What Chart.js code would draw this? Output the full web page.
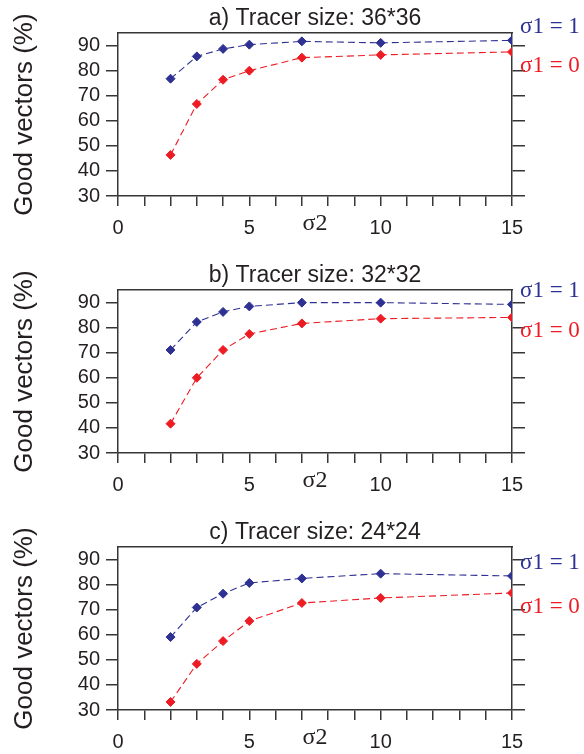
<!DOCTYPE html>
<html>
<head>
<meta charset="utf-8">
<script src="https://cdn.jsdelivr.net/npm/chart.js@4"></script>
<style>
  html, body { margin: 0; padding: 0; background: #fff; }
  body { width: 584px; height: 754px; position: relative; overflow: hidden; }
  canvas { position: absolute; left: 0; }
</style>
</head>
<body>
<canvas id="panel-a" width="584" height="240" style="top:0px"></canvas>
<canvas id="panel-b" width="584" height="240" style="top:257px"></canvas>
<canvas id="panel-c" width="584" height="240" style="top:514px"></canvas>
<script>
// sigma2 values on the x axis
const sigma2 = [2, 3, 4, 5, 7, 10, 15];

// good vectors (%) for each tracer size, sigma1 = 1 and sigma1 = 0
const good36s1 = [76.8, 85.7, 88.7, 90.4, 91.7, 91.1, 92.1];
const good36s0 = [46.4, 66.7, 76.4, 80.0, 85.2, 86.3, 87.5];
const good32s1 = [71.1, 82.3, 86.3, 88.5, 90.0, 90.0, 89.3];
const good32s0 = [41.7, 60.0, 71.1, 77.5, 81.7, 83.6, 84.1];
const good24s1 = [59.1, 70.9, 76.4, 80.7, 82.5, 84.4, 83.5];
const good24s0 = [33.2, 48.4, 57.5, 65.5, 72.7, 74.7, 76.7];

const panelTitles = ['a) Tracer size: 36*36', 'b) Tracer size: 32*32', 'c) Tracer size: 24*24'];
const seriesLabels = ['σ1 = 1', 'σ1 = 0'];
const yTicks = [30, 40, 50, 60, 70, 80, 90];
const xTickLabels = [0, 5, 10, 15];

const BLUE = '#2e3192';
const RED = '#ed1c24';
const INK = '#231f20';
const AXIS = '#363636';
const SANS = '"Liberation Sans", Arial, sans-serif';
const SERIF = '"Liberation Serif", "Times New Roman", serif';

// puts the sigma1 label next to the last point of each series
const endLabels = {
    id: 'endLabels',
    afterDatasetsDraw(chart) {
        const ctx = chart.ctx;
        ctx.save();
        ctx.font = '23px ' + SERIF;
        ctx.textBaseline = 'middle';
        ctx.textAlign = 'left';
        chart.data.datasets.forEach((ds, i) => {
            const pts = chart.getDatasetMeta(i).data;
            const last = pts[pts.length - 1];
            ctx.fillStyle = ds.borderColor;
            ctx.fillText(ds.label, chart.chartArea.right + 8, last.y + ds.labelShift);
        });
        ctx.restore();
    }
};

const fixedTicks = scale => { scale.ticks = yTicks.map(v => ({ value: v })); };

const makePanel = (id, title, s1, s0) => new Chart(document.getElementById(id), {
    type: 'line',
    data: {
        datasets: [{
            label: seriesLabels[0],
            data: sigma2.map((x, i) => ({ x: x, y: s1[i] })),
            borderColor: BLUE,
            backgroundColor: BLUE,
            labelShift: -13
        },
        {
            label: seriesLabels[1],
            data: sigma2.map((x, i) => ({ x: x, y: s0[i] })),
            borderColor: RED,
            backgroundColor: RED,
            labelShift: 14
        }]
    },
    options: {
        responsive: false,
        animation: false,
        elements: {
            line: { borderWidth: 1.1, borderDash: [7, 4], tension: 0 },
            point: { pointStyle: 'rectRot', radius: 4.5, borderWidth: 1 }
        },
        plugins: {
            legend: { display: false },
            tooltip: { enabled: false },
            title: {
                display: true,
                text: title,
                fullSize: false,
                color: INK,
                font: { family: SANS, size: 23, weight: 'normal' },
                padding: { top: 5, bottom: 0.5 }
            }
        },
        scales: {
            x: {
                type: 'linear',
                position: 'bottom',
                min: 0,
                max: 15,
                ticks: {
                    stepSize: 1,
                    autoSkip: false,
                    maxRotation: 0,
                    padding: 10,
                    color: INK,
                    font: { family: SANS, size: 20 },
                    callback: v => xTickLabels.includes(v) ? String(v) : ''
                },
                grid: { drawOnChartArea: false, tickLength: 10, color: AXIS, lineWidth: 1.5 },
                border: { color: AXIS, width: 1.5 },
                title: {
                    display: true,
                    text: 'σ2',
                    color: INK,
                    font: { family: SERIF, size: 24 },
                    padding: { top: 0, bottom: 2 }
                },
                afterFit: s => { s.height = 44; }
            },
            x2: {
                type: 'linear',
                position: 'top',
                min: 0,
                max: 15,
                ticks: { display: false },
                grid: { drawOnChartArea: false, drawTicks: false },
                border: { color: AXIS, width: 1.5 },
                afterFit: s => { s.height = 0; }
            },
            y: {
                min: 30,
                max: 95,
                afterBuildTicks: fixedTicks,
                ticks: { padding: 6, color: INK, font: { family: SANS, size: 20 } },
                grid: { drawOnChartArea: false, tickLength: 12, color: AXIS, lineWidth: 1.5 },
                border: { color: AXIS, width: 1.5 },
                title: {
                    display: true,
                    text: 'Good vectors (%)',
                    color: INK,
                    font: { family: SANS, size: 26 },
                    padding: { top: 9, bottom: 0 }
                },
                afterFit: s => { s.width = 118; }
            },
            y2: {
                position: 'right',
                min: 30,
                max: 95,
                afterBuildTicks: fixedTicks,
                ticks: { display: false },
                grid: { drawOnChartArea: false, tickLength: 13, color: AXIS, lineWidth: 1.5 },
                border: { color: AXIS, width: 1.5 },
                afterFit: s => { s.width = 72; }
            }
        }
    },
    plugins: [endLabels]
});

makePanel('panel-a', panelTitles[0], good36s1, good36s0);
makePanel('panel-b', panelTitles[1], good32s1, good32s0);
makePanel('panel-c', panelTitles[2], good24s1, good24s0);
</script>
</body>
</html>
